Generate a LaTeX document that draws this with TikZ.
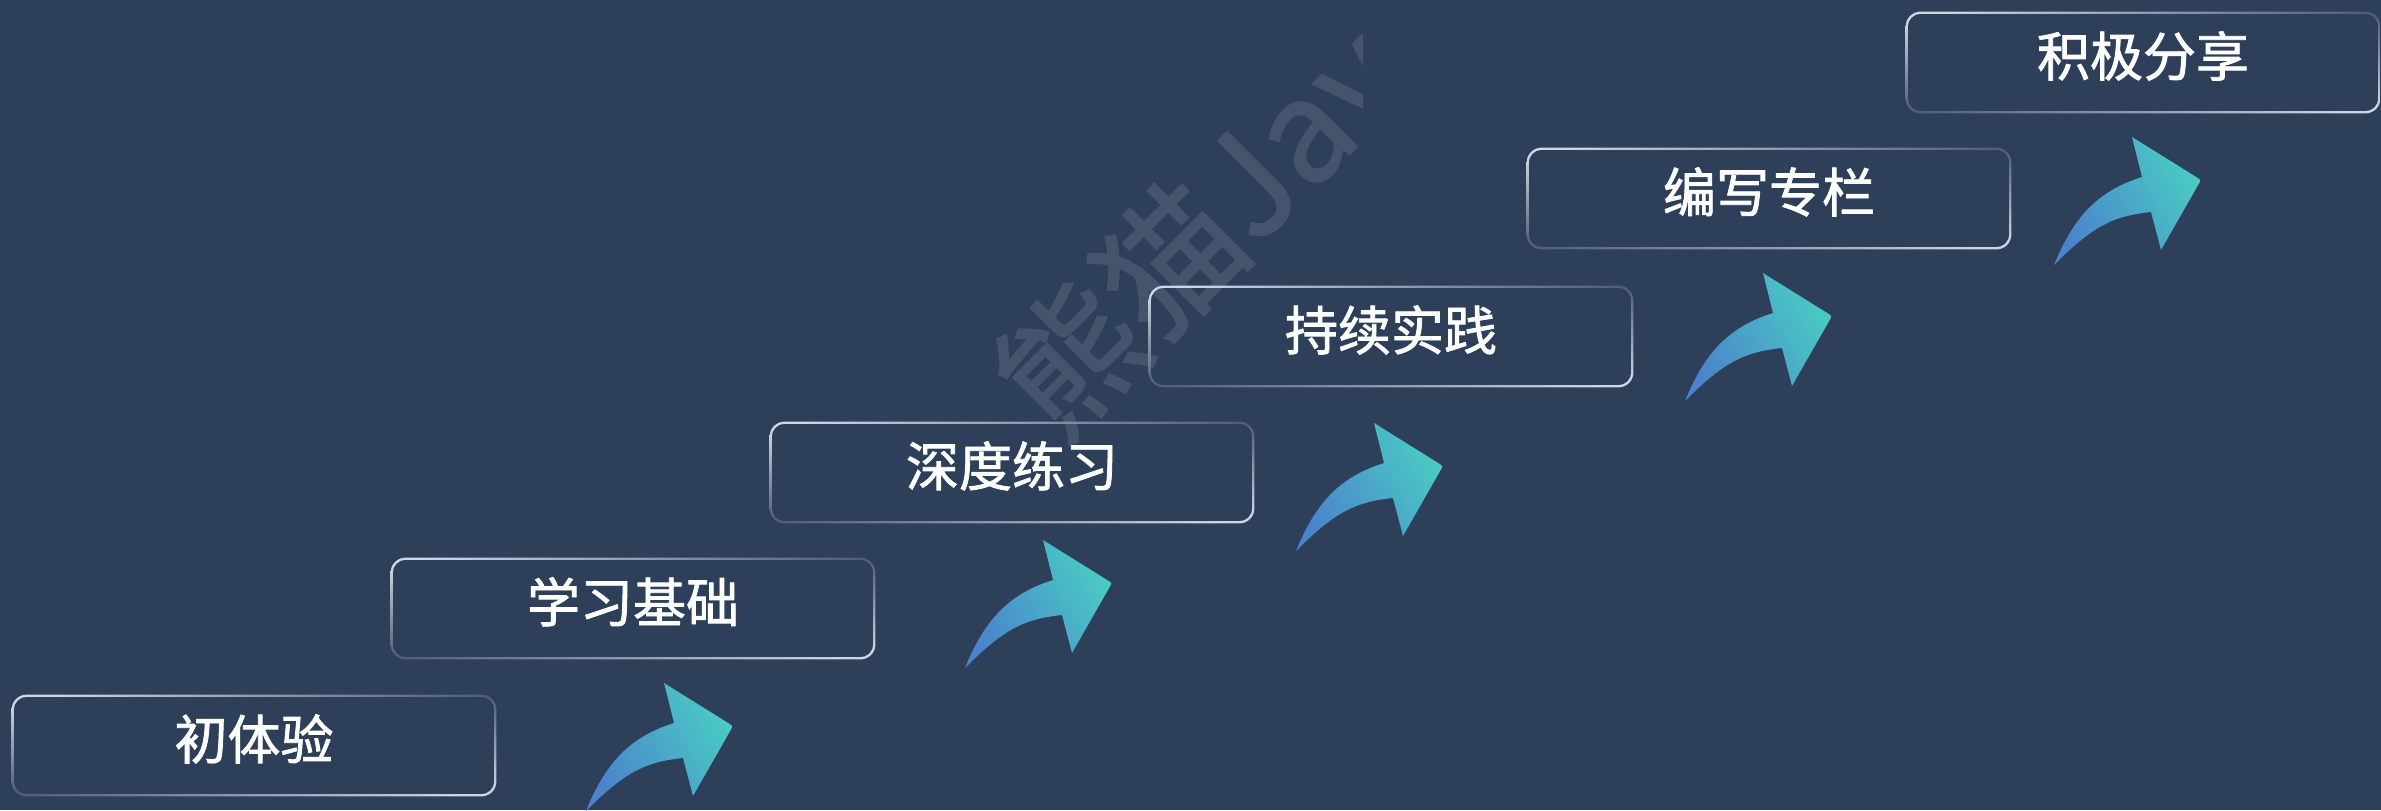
\documentclass[tikz,border=0pt]{standalone}
\usepackage{fontspec}
\setmainfont{Noto Sans CJK SC}
\newfontfamily\cjk[FakeBold=1.5]{Noto Sans CJK SC}
\newfontfamily\cjkwm[FakeBold=1.2]{Noto Sans CJK SC}
\definecolor{bgcol}{HTML}{2D3F59}
\definecolor{arrB}{HTML}{4A84CC}
\definecolor{arrT}{HTML}{4ACAC4}
\definecolor{wmcol}{HTML}{43546C}
\pgfdeclarefunctionalshading{ringshade}{\pgfpoint{0bp}{0bp}}{\pgfpoint{100bp}{100bp}}{}{
  50 sub exch 50 sub neg mul 0.00072 mul 0.62 add
  dup 1 gt {pop 1} if dup 0 lt {pop 0} if
  dup 0.62 mul 0.18 add exch dup 0.6 mul 0.25 add exch 0.55 mul 0.35 add
}
\tikzset{
  stepbox/.style={rectangle, minimum width=242pt, minimum height=50.5pt, inner sep=0pt,
    text=white, font=\cjk\fontsize{26.5pt}{30pt}\selectfont, text height=15.9pt, text depth=2.2pt},
  arrowfill/.style={left color=arrB, right color=arrT, shading angle=120},
  wmark/.style={text=wmcol, font=\cjkwm\fontsize{70pt}{80pt}\selectfont, inner sep=0pt},
}
\newcommand{\ringbox}[1]{%
  \shade[even odd rule, shading=ringshade, rounded corners=7.5pt]
    (#1.north west) rectangle (#1.south east)
    [rounded corners=6.4pt]
    ([xshift=1.1pt,yshift=-1.1pt]#1.north west) rectangle ([xshift=-1.1pt,yshift=1.1pt]#1.south east);}
\newcommand{\risearrow}[2]{%
  \begin{scope}[shift={(#1,#2)}]
    \shade[arrowfill] (-78,128) .. controls (-57,76) and (-31,53) .. (10,40)
      -- (0,0) -- (64.8,40.4) .. controls (69,43) .. (66.5,47.3)
      -- (29,113) -- (19,75) .. controls (-20,79) and (-40,90) .. (-78,128) -- cycle;
  \end{scope}}
\begin{document}
\begin{tikzpicture}[x=0.5pt, y=-0.5pt]
  \useasboundingbox (0,0) rectangle (2381,810);
  \fill[bgcol] (0,0) rectangle (2381,810);
  \clip (0,0) rectangle (2381,810);
  % watermark
  \begin{scope}
    \clip (0,0) rectangle (1363,810);
    \node[wmark, rotate=45, anchor=base west] (wm) at (1058,446) {熊猫Java};
  \end{scope}
  % boxes
  \node[stepbox] (b1) at (254,745.5) {初体验};
  \node[stepbox] (b2) at (633,608.5) {学习基础};
  \node[stepbox] (b3) at (1012,472.5) {深度练习};
  \node[stepbox] (b4) at (1391,336.5) {持续实践};
  \node[stepbox] (b5) at (1769,198.5) {编写专栏};
  \node[stepbox, minimum width=237pt] (b6) at (2143,62.5) {积极分享};
  \ringbox{b1}\ringbox{b2}\ringbox{b3}\ringbox{b4}\ringbox{b5}\ringbox{b6}
  % arrows
  \risearrow{664}{683}
  \risearrow{1043}{540}
  \risearrow{1374}{423}
  \risearrow{1763}{273}
  \risearrow{2132}{137}
\end{tikzpicture}
\end{document}
